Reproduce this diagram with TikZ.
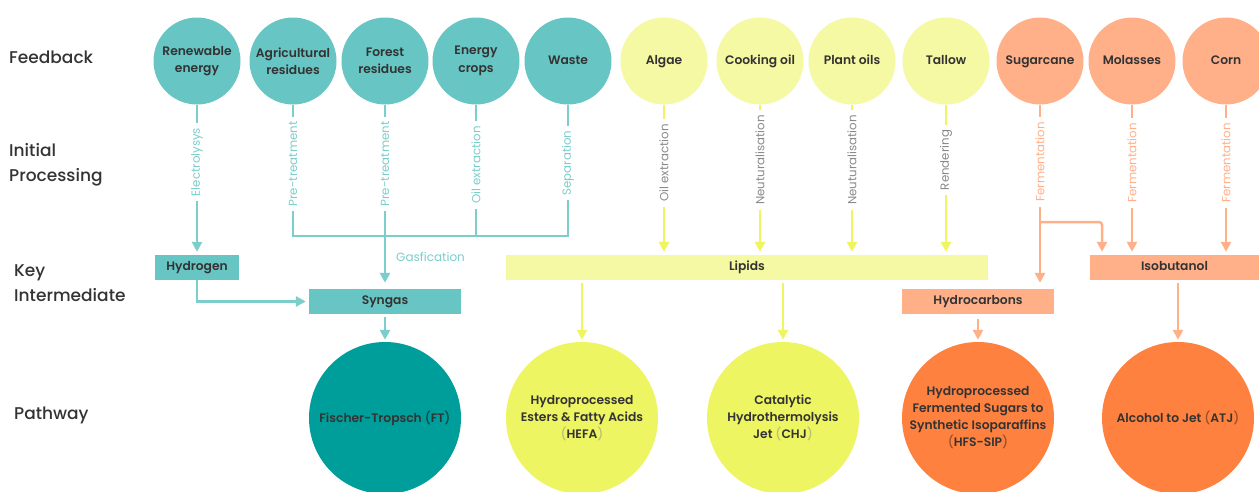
\documentclass[tikz,border=0pt]{standalone}
\usepackage{fontspec}
\setmainfont{Poppins}[UprightFont=* Medium, BoldFont=* SemiBold]
\newfontfamily\lightfont{Poppins}
\usetikzlibrary{arrows.meta}
\definecolor{tealc}{HTML}{67C6C4}
\definecolor{tealline}{HTML}{7BCECB}
\definecolor{teald}{HTML}{009E9B}
\definecolor{yelc}{HTML}{F5F9A3}
\definecolor{yelline}{HTML}{EEF55E}
\definecolor{yeld}{HTML}{EEF562}
\definecolor{salc}{HTML}{FFB089}
\definecolor{orad}{HTML}{FF8140}
\definecolor{txt}{HTML}{333333}
\definecolor{graylbl}{HTML}{8A8A8A}
\definecolor{parc}{HTML}{9A9A9A}
\newcommand{\parop}{{\mdseries\color{parc}(}}
\newcommand{\parcl}{{\mdseries\color{parc})}}
\begin{document}
\begin{tikzpicture}[x=1pt,y=-1pt,
  feed/.style={circle, minimum size=87pt, inner sep=0pt, align=center, text=txt,
    font=\bfseries\fontsize{12.3}{17.5}\selectfont},
  feedone/.style={feed, text height=9pt, text depth=3pt},
  pathw/.style={circle, minimum size=152pt, inner sep=0pt, align=center, text=txt,
    font=\bfseries\fontsize{12.3}{17}\selectfont},
  ibox/.style={rectangle, minimum height=25pt, inner sep=0pt, text=txt,
    text height=9pt, text depth=3pt,
    font=\bfseries\fontsize{12.3}{14}\selectfont},
  proc/.style={rotate=90, fill=white, inner xsep=5pt, inner ysep=0pt,
    font=\lightfont\fontsize{11.8}{13}\selectfont},
  rowlbl/.style={anchor=west, align=left, inner sep=0pt, text=txt,
    font=\fontsize{17}{25}\selectfont},
  conn/.style={line width=2.5pt},
  arr/.style={conn, -{Triangle[width=10pt,length=10pt]}, shorten >=3pt},
  pc/.style={execute at begin node={\colorlet{parc}{#1}}},
]
\path[use as bounding box, fill=white] (0,0) rectangle (1259,491);

% row labels
\node[rowlbl] (r1) at (9,57) {Feedback};
\node[rowlbl] (r2) at (9,164.5) {Initial\\Processing};
\node[rowlbl] (r3) at (14,283) {Key\\Intermediate};
\node[rowlbl] (r4) at (14,415) {Pathway};

% feedstock circles
\node[feed, fill=tealc] (ren) at (197,61) {Renewable\\energy};
\node[feed, fill=tealc] (agr) at (293,61) {Agricultural\\residues};
\node[feed, fill=tealc] (for) at (385,61) {Forest\\residues};
\node[feed, fill=tealc] (ene) at (476,61) {Energy\\crops};
\node[feedone, fill=tealc] (was) at (568,61) {Waste};
\node[feedone, fill=yelc] (alg) at (664,61) {Algae};
\node[feedone, fill=yelc] (coo) at (760,61) {Cooking oil};
\node[feedone, fill=yelc] (pla) at (852,61) {Plant oils};
\node[feedone, fill=yelc] (tal) at (946,61) {Tallow};
\node[feedone, fill=salc] (sug) at (1040,61) {Sugarcane};
\node[feedone, fill=salc] (mol) at (1132,61) {Molasses};
\node[feedone, fill=salc] (cor) at (1226,61) {Corn};

% intermediates
\node[ibox, fill=tealc, minimum width=84pt] (hyd) at (197,267.5) {Hydrogen};
\node[ibox, fill=tealc, minimum width=152pt] (syn) at (385,301.5) {Syngas};
\node[ibox, fill=yelc, minimum width=482pt] (lip) at (747,267.5) {Lipids};
\node[ibox, fill=salc, minimum width=152pt] (hyc) at (978,301.5) {Hydrocarbons};
\node[ibox, fill=salc, minimum width=169pt] (iso) at (1174.5,267.5) {Isobutanol};

% pathways
\node[pathw, fill=teald, pc=teald!45!black] (ft) at (385,418) {Fischer-Tropsch \parop FT\parcl};
\node[pathw, fill=yeld, pc=yeld!55!gray] (hefa) at (582,418) {Hydroprocessed\\Esters \& Fatty Acids\\\parop HEFA\parcl};
\node[pathw, fill=yeld, pc=yeld!55!gray] (chj) at (783,418) {Catalytic\\Hydrothermolysis\\Jet \parop CHJ\parcl};
\node[pathw, fill=orad, pc=orad!60!black] (hfs) at (978,418) {Hydroprocessed\\Fermented Sugars to\\Synthetic Isoparaffins\\\parop HFS-SIP\parcl};
\node[pathw, fill=orad, pc=orad!60!black] (atj) at (1178,418) {Alcohol to Jet \parop ATJ\parcl};

% teal connectors
\coordinate (bar) at (0,236);
\draw[arr, tealline] (ren.south) -- (hyd.north);
\draw[conn, tealline] (agr.south) -- (agr.south |- bar) -- (was.south |- bar) -- (was.south);
\draw[conn, tealline] (ene.south) -- (ene.south |- bar);
\draw[arr, tealline, shorten >=6pt] (for.south) -- (syn.north);
\draw[arr, tealline] (hyd.south) |- (syn.west);
\draw[arr, tealline, shorten <=3pt, shorten >=2pt] (syn.south) -- (ft.north);
\node[anchor=west, inner sep=0pt, text=tealline, font=\lightfont\fontsize{12}{13}\selectfont] (gas) at (396,257) {Gasfication};

% yellow connectors
\draw[arr, yelline] (alg.south) -- (alg.south |- lip.north);
\draw[arr, yelline] (coo.south) -- (coo.south |- lip.north);
\draw[arr, yelline] (pla.south) -- (pla.south |- lip.north);
\draw[arr, yelline] (tal.south) -- (tal.south |- lip.north);
\draw[arr, yelline, shorten <=3pt, shorten >=2pt] (lip.south -| hefa.north) -- (hefa.north);
\draw[arr, yelline, shorten <=3pt, shorten >=2pt] (lip.south -| chj.north) -- (chj.north);

% salmon connectors
\coordinate (br) at (1102,222);
\draw[arr, salc, shorten >=6pt] (sug.south) -- (sug.south |- hyc.north);
\draw[arr, salc, rounded corners=3pt] (sug.south |- br) -- (br) -- (br |- iso.north);
\draw[arr, salc] (mol.south) -- (mol.south |- iso.north);
\draw[arr, salc] (cor.south) -- (cor.south |- iso.north);
\draw[arr, salc, shorten <=5pt, shorten >=2pt] (hyc.south) -- (hfs.north);
\draw[arr, salc, shorten <=3pt, shorten >=2pt] (iso.south -| atj.north) -- (atj.north);

% processing labels
\node[proc, text=tealline] (p1) at (197,162) {Electrolysys};
\node[proc, text=tealline] (p2) at (293,164) {Pre-treatment};
\node[proc, text=tealline] (p3) at (385,164) {Pre-treatment};
\node[proc, text=tealline] (p4) at (476,165) {Oil extraction};
\node[proc, text=tealline] (p5) at (568,163) {Separation};
\node[proc, text=graylbl] (p6) at (664,163) {Oil extraction};
\node[proc, text=graylbl] (p7) at (760,160) {Neuturalisation};
\node[proc, text=graylbl] (p8) at (852,160) {Neuturalisation};
\node[proc, text=graylbl] (p9) at (946,160) {Rendering};
\node[proc, text=salc] (p10) at (1040,162) {Fermentation};
\node[proc, text=salc] (p11) at (1132,163) {Fermentation};
\node[proc, text=salc] (p12) at (1226,163) {Fermentation};
\end{tikzpicture}
\end{document}
